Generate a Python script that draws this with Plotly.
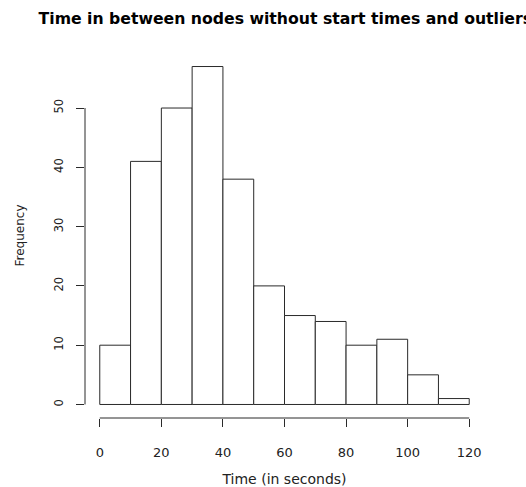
import plotly.graph_objects as go

bin_edges = [0, 10, 20, 30, 40, 50, 60, 70, 80, 90, 100, 110, 120]
counts = [10, 41, 50, 57, 38, 20, 15, 14, 10, 11, 5, 1]
x_ticks = [0, 20, 40, 60, 80, 100, 120]
y_ticks = [0, 10, 20, 30, 40, 50]

title = "Time in between nodes without start times and outliers"
x_title = "Time (in seconds)"
y_title = "Frequency"

centers = [(a + b) / 2 for a, b in zip(bin_edges[:-1], bin_edges[1:])]
widths = [b - a for a, b in zip(bin_edges[:-1], bin_edges[1:])]

line_col = "#2a2a2a"
font = "DejaVu Sans, Liberation Sans, Arial, sans-serif"

fig = go.Figure(go.Bar(
    x=centers, y=counts, width=widths,
    marker=dict(color="white", line=dict(color=line_col, width=1)),
    hoverinfo="x+y",
))

span = bin_edges[-1] - bin_edges[0]
xr = [bin_edges[0] - 0.04 * span, bin_edges[-1] + 0.04 * span]
ymax = max(counts)
yr = [-0.04 * ymax, ymax * 1.04]

fig.update_layout(
    width=526, height=487,
    margin=dict(l=85, r=42, t=53, b=69),
    paper_bgcolor="white", plot_bgcolor="white",
    showlegend=False,
    font=dict(family=font, size=13, color="#222222"),
    title=dict(text="<b>" + title + "</b>", x=0.5424, xanchor="center", y=0.961, yanchor="middle",
               automargin=False,
               font=dict(family=font, size=15.7, color="black")),
    xaxis=dict(range=xr, tickmode="array", tickvals=x_ticks, ticktext=[str(v) for v in x_ticks],
               showgrid=False, zeroline=False, showline=False, automargin=False,
               ticks="outside", ticklen=8, tickcolor=line_col, tickwidth=1,
               title=dict(text=x_title, standoff=18, font=dict(size=14)),
               tickfont=dict(size=13), ticklabelstandoff=14),
    yaxis=dict(range=yr, tickmode="array", tickvals=y_ticks, ticktext=[str(v) for v in y_ticks],
               showgrid=False, zeroline=False, showline=False, automargin=False,
               ticks="outside", ticklen=8, tickcolor=line_col, tickwidth=1, tickangle=-90,
               title=dict(text=y_title, standoff=25, font=dict(size=12)),
               tickfont=dict(size=11.5), ticklabelstandoff=8),
)

# R-style axis lines spanning only first to last tick
fig.add_shape(type="line", xref="x", yref="paper", x0=x_ticks[0], x1=x_ticks[-1], y0=0, y1=0,
              line=dict(color=line_col, width=1))
fig.add_shape(type="line", xref="paper", yref="y", x0=0, x1=0, y0=y_ticks[0], y1=y_ticks[-1],
              line=dict(color=line_col, width=1))

fig.write_html("out.html",
               config={"displayModeBar": False},
               post_script="document.body.style.margin='0';document.body.style.overflow='hidden';")
